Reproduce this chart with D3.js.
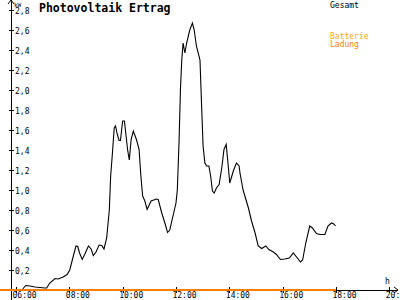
<!DOCTYPE html>
<html>
<head>
<meta charset="utf-8">
<script src="https://cdn.jsdelivr.net/npm/d3@7"></script>
<style>
  body { margin: 0; background: #fff; }
  text { font-family: 'DejaVu Sans Mono', monospace; }
</style>
</head>
<body>
<div id="divChart"></div>
<script>
// values (time of day, kW)
var times = ['06:15', '06:22', '06:31', '06:43', '07:05', '07:09', '07:16', '07:28', '07:35', '07:46',
  '07:55', '08:01', '08:09', '08:15', '08:19', '08:23', '08:29', '08:35', '08:43', '08:49',
  '08:54', '09:00', '09:07', '09:13', '09:18', '09:24', '09:30', '09:33', '09:37', '09:41',
  '09:44', '09:48', '09:52', '09:55', '10:00', '10:04', '10:07', '10:11', '10:15', '10:19',
  '10:24', '10:31', '10:37', '10:41', '10:45', '10:50', '10:55', '11:04', '11:16', '11:20',
  '11:28', '11:35', '11:41', '11:46', '11:54', '12:00', '12:03', '12:07', '12:10', '12:13',
  '12:16', '12:20', '12:24', '12:31', '12:37', '12:41', '12:46', '12:54', '12:58', '13:01',
  '13:05', '13:09', '13:14', '13:18', '13:22', '13:26', '13:31', '13:37', '13:43', '13:48',
  '13:53', '13:57', '14:01', '14:09', '14:16', '14:22', '14:24', '14:31', '14:43', '14:50',
  '14:58', '15:05', '15:13', '15:22', '15:29', '15:39', '15:46', '15:55', '16:05', '16:15',
  '16:24', '16:33', '16:40', '16:45', '16:52', '17:01', '17:07', '17:16', '17:24', '17:35',
  '17:42', '17:50', '17:55', '17:59']
var gesamt = [0.01, 0.045, 0.04, 0.03, 0.02, 0.02, 0.07, 0.115, 0.11, 0.13,
  0.155, 0.2, 0.34, 0.44, 0.435, 0.37, 0.305, 0.36, 0.44, 0.41,
  0.345, 0.38, 0.45, 0.445, 0.41, 0.52, 0.8, 1.14, 1.37, 1.62,
  1.64, 1.555, 1.495, 1.495, 1.69, 1.69, 1.57, 1.405, 1.3, 1.505,
  1.59, 1.505, 1.405, 1.14, 0.94, 0.89, 0.805, 0.89, 0.91, 0.905,
  0.77, 0.67, 0.575, 0.6, 0.755, 0.87, 1.0, 1.5, 2.0, 2.3,
  2.47, 2.37, 2.47, 2.6, 2.67, 2.6, 2.44, 2.3, 1.8, 1.44,
  1.27, 1.24, 1.24, 1.14, 0.99, 0.97, 1.02, 1.055, 1.22, 1.405,
  1.455, 1.27, 1.07, 1.19, 1.27, 1.24, 1.17, 1.0, 0.82, 0.69,
  0.57, 0.44, 0.415, 0.44, 0.405, 0.38, 0.355, 0.305, 0.31, 0.32,
  0.37, 0.32, 0.28, 0.3, 0.47, 0.64, 0.62, 0.565, 0.555, 0.555,
  0.64, 0.67, 0.66, 0.64]
// battery charge: zero the whole day
var ladungTimes = ['00:00', '18:00']
var ladung = [0, 0]

var xTicks = ['06:00', '08:00', '10:00', '12:00', '14:00', '16:00', '18:00', '20:00']
var yTicks = [0.2, 0.4, 0.6, 0.8, 1.0, 1.2, 1.4, 1.6, 1.8, 2.0, 2.2, 2.4, 2.6, 2.8]

var legendNames = ['Gesamt', 'Batterie', 'Ladung']
var legendColors = ['#000000', '#ffa800', '#ff8000']

var chart = {}

function toHours (t) {
  var p = t.split(':')
  return +p[0] + p[1] / 60
}

function initChart () {
  chart.width = 400
  chart.height = 300
  chart.x = d3.scaleLinear().domain([6, 20]).range([16, 389.3])
  chart.y = d3.scaleLinear().domain([0, 2.8]).range([290, 10])

  chart.svg = d3.select('#divChart')
    .append('svg')
    .attr('width', chart.width)
    .attr('height', chart.height)
}

function drawAxes () {
  var svg = chart.svg

  // y axis with arrow on top
  var yAxis = d3.axisLeft(chart.y)
    .tickValues(yTicks)
    .tickSize(0)
    .tickFormat(function (d) { return d3.format('.1f')(d).replace('.', ',') })
  var gy = svg.append('g')
    .attr('transform', 'translate(11,0)')
    .call(yAxis)
  gy.select('.domain').remove()
  gy.selectAll('.tick line').remove()
  gy.selectAll('.tick')
    .append('line')
    .attr('x1', -2.5)
    .attr('x2', 2.5)
    .attr('stroke', '#000')
    .attr('shape-rendering', 'crispEdges')
  gy.selectAll('.tick text')
    .attr('x', 4)
    .attr('dy', '0.4em')
    .attr('text-anchor', 'start')
    .attr('font-size', 8)
    .attr('font-family', 'DejaVu Sans Mono')
    .attr('fill', '#000')
  svg.append('line')
    .attr('x1', 11).attr('x2', 11)
    .attr('y1', 0).attr('y2', 300)
    .attr('stroke', '#000')
    .attr('shape-rendering', 'crispEdges')
  svg.append('path')
    .attr('d', 'M8,4L11,0L14,4')
    .attr('fill', 'none')
    .attr('stroke', '#000')
  svg.append('text')
    .attr('x', 14)
    .attr('y', 6.5)
    .attr('font-size', 6)
    .text('kW')

  // x axis with arrow on the right
  var xAxis = d3.axisBottom(chart.x)
    .tickValues(xTicks.map(toHours))
    .tickSize(0)
    .tickFormat(function (d, i) { return xTicks[i] })
  var gx = svg.append('g')
    .attr('transform', 'translate(0,290)')
    .call(xAxis)
  gx.select('.domain').remove()
  gx.selectAll('.tick line').remove()
  gx.selectAll('.tick')
    .append('line')
    .attr('y1', -3)
    .attr('y2', 3)
    .attr('stroke', '#000')
    .attr('shape-rendering', 'crispEdges')
  gx.selectAll('.tick text')
    .attr('y', 8)
    .attr('dy', 0)
    .attr('x', -4)
    .attr('text-anchor', 'start')
    .attr('font-size', 8)
    .attr('font-family', 'DejaVu Sans Mono')
    .attr('fill', '#000')
  svg.append('line')
    .attr('x1', 0).attr('x2', 398)
    .attr('y1', 290).attr('y2', 290)
    .attr('stroke', '#000')
    .attr('shape-rendering', 'crispEdges')
  svg.append('path')
    .attr('d', 'M394,287L398,290L394,293')
    .attr('fill', 'none')
    .attr('stroke', '#000')
  svg.append('text')
    .attr('x', 385)
    .attr('y', 284)
    .attr('font-size', 8)
    .text('h')
}

function drawLines () {
  var line = d3.line()
    .x(function (d) { return chart.x(d[0]) })
    .y(function (d) { return chart.y(d[1]) })

  // battery charge line sits on the x axis
  chart.svg.append('path')
    .datum(ladungTimes.map(function (t, i) { return [toHours(t), ladung[i]] }))
    .attr('d', line)
    .attr('fill', 'none')
    .attr('stroke', legendColors[2])
    .attr('stroke-width', 2)

  chart.svg.append('path')
    .datum(times.map(function (t, i) { return [toHours(t), gesamt[i]] }))
    .attr('d', line)
    .attr('fill', 'none')
    .attr('stroke', legendColors[0])
    .attr('stroke-width', 1.1)
}

function drawTexts () {
  chart.svg.append('text')
    .attr('x', 39)
    .attr('y', 11.5)
    .attr('font-size', 11.5)
    .attr('font-weight', 'bold')
    .text('Photovoltaik Ertrag')

  var legendY = [8, 39, 47]
  chart.svg.selectAll('.legend')
    .data(legendNames)
    .enter()
    .append('text')
    .attr('class', 'legend')
    .attr('x', 330)
    .attr('y', function (d, i) { return legendY[i] })
    .attr('font-size', 8)
    .attr('fill', function (d, i) { return legendColors[i] })
    .text(function (d) { return d })
}

initChart()
drawAxes()
drawLines()
drawTexts()
</script>
</body>
</html>
